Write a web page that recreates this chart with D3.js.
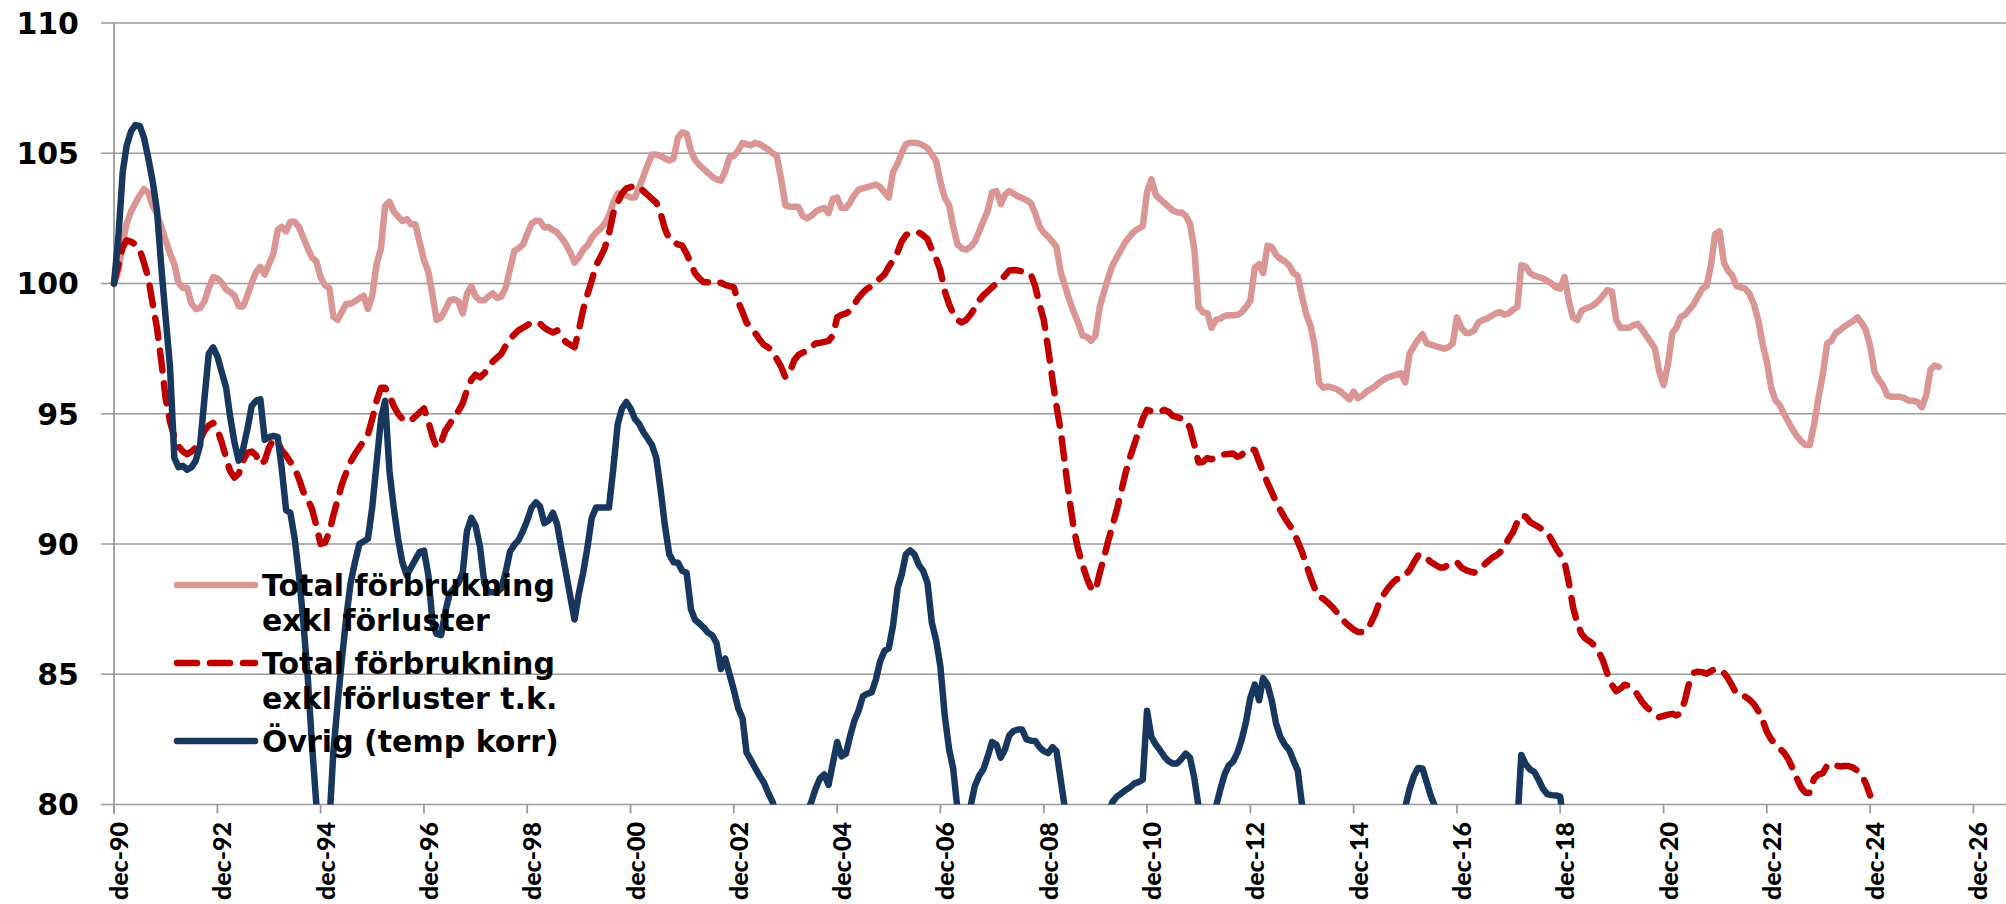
<!DOCTYPE html>
<html><head><meta charset="utf-8">
<script src="https://cdn.jsdelivr.net/npm/d3@7"></script>
<style>html,body{margin:0;padding:0;background:#fff}svg{display:block}</style>
</head><body>
<svg id="chart" width="2006" height="904"></svg>
<script>
// ---------- data ----------
const firstMonth = "1990-12";           // first monthly observation
const yTicks = [80, 85, 90, 95, 100, 105, 110];
const xTickLabels = ["dec-90","dec-92","dec-94","dec-96","dec-98","dec-00","dec-02","dec-04","dec-06",
  "dec-08","dec-10","dec-12","dec-14","dec-16","dec-18","dec-20","dec-22","dec-24","dec-26"];
const legendLabels = [["Total förbrukning","exkl förluster"],["Total förbrukning","exkl förluster t.k."],["Övrig (temp korr)"]];

// Total förbrukning exkl förluster (monthly from dec-90)
const totalExkl = [
100.0,100.5,101.6,102.3,102.77,103.08,103.38,103.63,103.48,102.98,102.67,102.17,
101.66,101.15,100.74,100.03,99.83,99.83,99.22,99.02,99.06,99.32,99.83,100.24,
100.2,100.03,99.77,99.67,99.53,99.12,99.12,99.53,100.03,100.44,100.64,100.34,
100.74,101.15,102.06,102.17,102.0,102.37,102.37,102.17,101.76,101.35,101.0,100.85,
100.24,99.93,99.83,98.72,98.61,98.92,99.22,99.22,99.32,99.43,99.53,99.02,
99.53,100.74,101.35,102.98,103.14,102.77,102.57,102.4,102.47,102.27,102.27,101.56,
100.9,100.45,99.5,98.6,98.7,99.0,99.35,99.4,99.32,98.85,99.6,99.9,
99.5,99.36,99.36,99.5,99.62,99.45,99.5,99.83,100.55,101.25,101.35,101.5,
101.9,102.3,102.41,102.4,102.15,102.17,102.05,101.96,101.75,101.5,101.2,100.8,
101.0,101.3,101.46,101.75,101.95,102.1,102.3,102.6,103.1,103.45,103.4,103.38,
103.3,103.3,103.7,104.1,104.55,104.95,104.95,104.9,104.8,104.72,104.8,105.6,
105.8,105.75,105.1,104.75,104.55,104.4,104.25,104.1,104.0,103.95,104.3,104.85,
104.9,105.1,105.4,105.35,105.3,105.4,105.35,105.25,105.15,105.0,104.9,104.0,
103.0,102.95,102.95,102.95,102.6,102.5,102.6,102.75,102.85,102.9,102.7,103.25,
103.3,102.9,102.9,103.1,103.4,103.6,103.65,103.7,103.75,103.8,103.7,103.5,
103.3,104.3,104.6,105.0,105.35,105.4,105.4,105.38,105.3,105.2,104.95,104.7,
103.9,103.3,103.0,102.2,101.5,101.35,101.3,101.4,101.6,102.0,102.4,102.8,
103.5,103.55,103.05,103.4,103.55,103.45,103.35,103.28,103.2,103.08,102.7,102.2,
101.95,101.8,101.6,101.4,100.4,99.9,99.35,98.9,98.5,98.0,97.96,97.8,
98.0,99.1,99.7,100.2,100.7,101.0,101.3,101.6,101.8,102.0,102.1,102.2,
103.5,104.0,103.4,103.25,103.1,102.95,102.8,102.73,102.73,102.6,102.3,101.3,
99.1,98.9,98.85,98.3,98.6,98.65,98.75,98.78,98.78,98.8,98.9,99.1,
99.35,100.6,100.74,100.4,101.45,101.4,101.1,100.95,100.85,100.7,100.4,100.3,
99.5,98.8,98.35,97.6,96.2,96.0,96.05,96.0,95.95,95.85,95.7,95.55,
95.85,95.6,95.7,95.85,95.95,96.05,96.2,96.3,96.4,96.45,96.5,96.55,
96.2,97.3,97.6,97.85,98.05,97.7,97.65,97.6,97.55,97.5,97.55,97.7,
98.7,98.3,98.1,98.1,98.2,98.5,98.6,98.65,98.75,98.85,98.9,98.8,
98.85,99.0,99.1,100.7,100.65,100.4,100.3,100.25,100.2,100.1,100.0,99.85,
99.8,100.25,99.3,98.7,98.6,98.95,99.05,99.1,99.2,99.35,99.55,99.75,
99.7,98.6,98.3,98.3,98.3,98.4,98.45,98.25,98.0,97.75,97.5,96.6,
96.1,96.9,98.1,98.3,98.72,98.8,99.0,99.2,99.5,99.8,99.9,100.7,
101.9,102.0,100.8,100.5,100.3,99.9,99.85,99.8,99.6,99.2,98.6,97.7,
97.0,96.0,95.5,95.35,95.0,94.7,94.4,94.15,93.95,93.8,93.8,94.6,
95.6,96.5,97.7,97.8,98.1,98.2,98.35,98.45,98.55,98.7,98.5,98.2,
97.6,96.6,96.3,96.1,95.7,95.65,95.65,95.65,95.6,95.5,95.5,95.45,
95.25,95.7,96.7,96.85,96.8];

// Total förbrukning exkl förluster t.k.
const totalExklTk = [
100.0,100.7,101.4,101.66,101.6,101.5,101.3,100.8,100.2,99.2,98.3,97.0,
95.6,94.7,94.1,93.75,93.55,93.45,93.55,93.7,94.0,94.35,94.55,94.65,
94.4,93.9,93.3,92.8,92.55,92.7,93.2,93.5,93.55,93.4,93.05,93.2,
93.7,94.0,93.9,93.6,93.4,93.15,92.9,92.5,92.0,91.7,91.35,90.7,
90.0,90.05,90.45,91.1,91.7,92.3,92.75,93.15,93.45,93.7,93.95,94.2,
94.8,95.5,96.0,96.0,95.7,95.3,95.0,94.8,94.7,94.75,94.9,95.05,
95.2,94.7,94.1,93.7,93.9,94.35,94.6,94.9,95.1,95.4,95.9,96.3,
96.5,96.4,96.55,96.75,97.0,97.15,97.3,97.6,97.85,98.05,98.2,98.3,
98.4,98.5,98.5,98.47,98.3,98.2,98.12,98.2,97.95,97.75,97.65,97.55,
98.2,99.0,99.6,100.1,100.7,101.0,101.35,101.9,102.7,103.1,103.45,103.65,
103.7,103.75,103.72,103.55,103.4,103.25,103.1,102.7,102.1,101.7,101.6,101.5,
101.45,101.15,100.75,100.4,100.2,100.05,100.05,100.1,100.05,100.03,99.95,99.9,
99.85,99.3,98.9,98.5,98.3,98.1,97.85,97.65,97.55,97.4,97.1,96.8,
96.4,96.6,97.05,97.25,97.35,97.4,97.55,97.7,97.72,97.76,97.8,98.0,
98.7,98.8,98.85,98.95,99.2,99.45,99.65,99.8,99.9,100.05,100.2,100.35,
100.64,100.9,101.2,101.6,101.85,101.95,101.96,101.96,101.85,101.7,101.3,100.95,
100.5,99.7,99.2,98.85,98.6,98.5,98.6,98.8,99.05,99.35,99.55,99.7,
99.85,100.0,100.12,100.3,100.5,100.52,100.5,100.46,100.4,100.35,99.9,99.2,
98.6,97.5,96.3,95.3,94.3,93.0,91.7,90.6,89.8,89.2,88.7,88.3,
88.2,88.9,89.5,90.1,90.7,91.3,92.0,92.7,93.3,93.8,94.3,94.8,
95.15,95.1,95.05,95.06,95.15,95.08,94.92,94.87,94.82,94.76,94.45,93.8,
93.13,93.15,93.3,93.25,93.33,93.4,93.44,93.46,93.47,93.35,93.42,93.6,
93.65,93.6,93.15,92.75,92.35,92.0,91.6,91.3,91.0,90.75,90.5,90.1,
89.7,89.2,88.7,88.3,87.97,87.9,87.75,87.6,87.4,87.2,87.0,86.85,
86.72,86.62,86.62,86.7,86.95,87.3,87.75,88.05,88.3,88.5,88.65,88.67,
88.8,89.0,89.3,89.55,89.6,89.45,89.3,89.2,89.1,89.1,89.2,89.3,
89.3,89.1,89.0,88.95,88.9,89.0,89.15,89.3,89.45,89.55,89.68,89.9,
90.2,90.45,90.85,91.1,91.05,90.85,90.75,90.65,90.55,90.45,90.15,89.85,
89.6,89.3,88.5,87.6,86.95,86.55,86.35,86.25,86.1,85.85,85.5,85.0,
84.6,84.35,84.45,84.6,84.55,84.45,84.2,83.95,83.75,83.6,83.5,83.35,
83.4,83.45,83.48,83.42,83.5,84.0,84.7,85.05,85.1,85.08,85.02,85.12,
85.2,85.18,85.05,84.85,84.55,84.25,84.18,84.14,84.02,83.85,83.6,83.25,
82.8,82.5,82.3,82.15,82.0,81.75,81.4,81.0,80.65,80.45,80.45,81.0,
81.15,81.2,81.5,81.57,81.5,81.46,81.48,81.48,81.42,81.3,81.15,80.8,
80.35];

// Övrig (temp korr) — values under 80 fall outside the plot and are clipped
const ovrigTempKorr = [
100.0,101.8,104.3,105.3,105.85,106.08,106.05,105.6,104.8,103.9,102.8,100.6,
98.7,96.8,93.3,92.95,93.0,92.85,92.95,93.2,93.8,95.6,97.3,97.55,
97.2,96.6,96.0,94.9,93.9,93.2,93.65,94.4,95.3,95.5,95.55,94.0,
94.1,94.15,94.1,92.9,91.3,91.2,90.2,88.8,87.0,84.9,82.3,80.0,
77.8,77.6,79.3,82.0,83.9,85.6,87.2,88.5,89.3,90.0,90.1,90.2,
91.4,93.1,94.8,95.5,92.8,91.4,90.2,89.3,88.8,89.1,89.4,89.7,
89.75,88.8,86.9,86.55,86.5,87.4,88.1,88.3,88.5,88.9,90.5,91.0,
90.7,89.9,88.5,88.15,88.15,88.15,88.3,88.9,89.7,89.97,90.15,90.5,
90.9,91.4,91.6,91.45,90.8,90.9,91.2,90.75,89.8,88.9,88.0,87.1,
88.1,88.9,89.9,91.0,91.4,91.4,91.4,91.4,92.9,94.6,95.2,95.45,
95.2,94.8,94.6,94.3,94.05,93.8,93.3,92.1,90.7,89.6,89.3,89.28,
88.97,88.9,87.5,87.1,86.95,86.8,86.6,86.5,86.2,85.2,85.6,85.0,
84.4,83.7,83.3,82.0,81.7,81.4,81.1,80.85,80.45,80.1,79.6,79.2,
78.9,78.7,78.7,78.9,79.3,79.7,80.1,80.6,81.0,81.15,80.75,81.6,
82.4,81.85,81.95,82.6,83.2,83.6,84.15,84.25,84.3,84.8,85.5,85.9,
86.0,86.9,88.3,88.8,89.6,89.75,89.6,89.2,88.97,88.5,87.0,86.3,
85.3,83.4,82.1,81.4,79.8,78.9,78.9,79.9,80.7,81.1,81.35,81.85,
82.4,82.3,81.8,82.1,82.65,82.82,82.88,82.88,82.5,82.45,82.44,82.2,
82.05,81.97,82.2,82.05,80.9,79.8,79.0,78.5,78.2,78.0,78.0,78.1,
78.3,78.6,79.0,79.6,80.1,80.3,80.42,80.55,80.65,80.8,80.86,80.95,
83.6,82.6,82.3,82.1,81.85,81.67,81.57,81.57,81.75,81.95,81.8,81.0,
79.9,79.2,78.9,79.3,79.9,80.55,81.15,81.5,81.65,82.0,82.5,83.2,
84.1,84.6,84.0,84.85,84.6,84.0,83.1,82.6,82.3,82.1,81.7,81.3,
80.0,79.2,78.6,78.0,77.6,77.3,77.2,77.2,77.3,77.5,77.7,78.0,
78.2,78.4,78.5,78.6,78.7,78.8,78.9,79.0,79.1,79.3,79.5,79.7,
79.9,80.6,81.1,81.4,81.38,80.85,80.3,79.9,79.5,79.2,79.0,78.9,
78.8,78.7,78.6,78.6,78.6,78.7,78.8,78.9,79.0,79.2,79.4,79.5,
79.4,79.2,79.3,81.9,81.55,81.35,81.25,80.95,80.6,80.4,80.36,80.35,
80.3,79.0];

// ---------- chart ----------
const svg = d3.select("#chart");
const start = d3.timeParse("%Y-%m")(firstMonth);
const x = d3.scaleTime().domain([start, d3.timeMonth.offset(start, 432)]).range([114, 1973.4]);
const y = d3.scaleLinear().domain([80, 110]).range([804.5, 23]);
const plotRight = 2006;
const FONT = "'DejaVu Sans', Verdana, sans-serif";
const XFONT = "Lato, 'Open Sans', sans-serif";
const GRID = "#9a9a9a";

// gridlines
svg.append("g").selectAll("line").data(yTicks).join("line")
  .attr("x1", 101).attr("x2", plotRight)
  .attr("y1", d => y(d)).attr("y2", d => y(d))
  .attr("stroke", GRID).attr("stroke-width", 1.6);

// y axis line
svg.append("line").attr("x1", x(start)).attr("x2", x(start))
  .attr("y1", y(110)).attr("y2", y(80) + 9)
  .attr("stroke", GRID).attr("stroke-width", 1.8);

// y labels
svg.append("g").selectAll("text").data(yTicks).join("text")
  .attr("x", 79).attr("y", d => y(d)).attr("dy", "0.36em")
  .attr("text-anchor", "end")
  .style("font-family", FONT).style("font-weight", "bold").style("font-size", "30px")
  .attr("fill", "#000").text(d => d);

// x ticks & labels
const tickDates = xTickLabels.map((lab, i) => d3.timeMonth.offset(start, i * 24));
svg.append("g").selectAll("line").data(tickDates).join("line")
  .attr("x1", d => x(d)).attr("x2", d => x(d))
  .attr("y1", y(80)).attr("y2", y(80) + 9)
  .attr("stroke", GRID).attr("stroke-width", 1.8);
svg.append("g").selectAll("text").data(xTickLabels).join("text")
  .attr("transform", (d, i) => `translate(${x(tickDates[i]) + 14},822) rotate(-90)`)
  .attr("text-anchor", "end")
  .style("font-family", XFONT).style("font-weight", "900").style("font-size", "25px")
  .attr("fill", "#000").text(d => d);

// clip region
svg.append("clipPath").attr("id", "plotclip").append("rect")
  .attr("x", 100).attr("y", 0).attr("width", plotRight - 100).attr("height", y(80));

const line = d3.line()
  .x((d, i) => x(d3.timeMonth.offset(start, i)))
  .y(d => y(d));

const series = [
  {values: totalExkl, color: "#D99694", dash: null},
  {values: totalExklTk, color: "#C00000", dash: "20,13"},
  {values: ovrigTempKorr, color: "#17375E", dash: null}
];
const gLines = svg.append("g").attr("clip-path", "url(#plotclip)");
series.forEach(s => {
  gLines.append("path").datum(s.values)
    .attr("d", line)
    .attr("fill", "none")
    .attr("stroke", s.color)
    .attr("stroke-width", 6.5)
    .attr("stroke-linejoin", "round")
    .attr("stroke-linecap", "round")
    .attr("stroke-dasharray", s.dash);
});

// legend
const legendY = [585, 663, 741];
const lg = svg.append("g");
series.forEach((s, i) => {
  lg.append("line").attr("x1", 177).attr("x2", 255)
    .attr("y1", legendY[i]).attr("y2", legendY[i])
    .attr("stroke", s.color).attr("stroke-width", 6.5)
    .attr("stroke-linecap", "round")
    .attr("stroke-dasharray", s.dash);
  const t = lg.append("text").attr("x", 262).attr("y", legendY[i] + 11)
    .style("font-family", FONT).style("font-weight", "bold").style("font-size", "30px")
    .attr("fill", "#000");
  legendLabels[i].forEach((txt, j) => {
    t.append("tspan").attr("x", 262).attr("dy", j === 0 ? 0 : 35).text(txt);
  });
});
</script>
</body></html>
